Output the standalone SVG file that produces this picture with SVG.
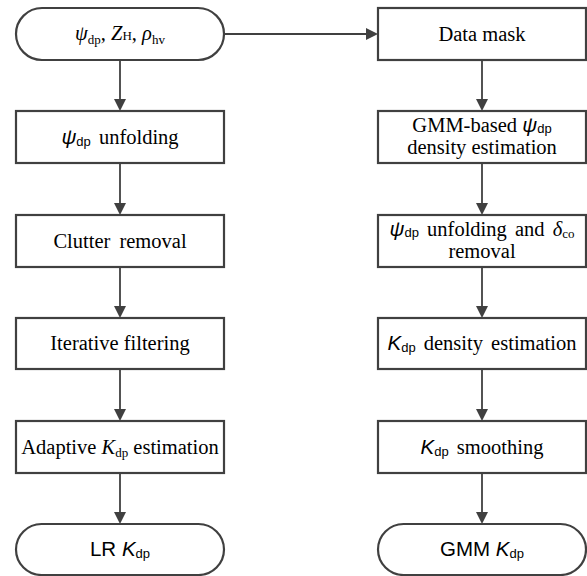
<svg xmlns="http://www.w3.org/2000/svg" width="587" height="576" viewBox="0 0 587 576">
<style>
.box{fill:#fff;stroke:#404040;stroke-width:2.2}
.ln{stroke:#404040;stroke-width:1.8;fill:none}
.ah{fill:#404040}
.t{font-family:"Liberation Serif","Times New Roman",serif;font-size:20.5px;fill:#000;text-anchor:middle}
.sans{font-family:"Liberation Sans",Arial,sans-serif}
.sub{font-size:13px}
.it{font-style:italic}
</style>
<g id="connectors">
<path class="ln" d="M120,60 V101"/><path class="ah" d="M114,99 L126,99 L120,111 z"/>
<path class="ln" d="M120,163 V204"/><path class="ah" d="M114,203 L126,203 L120,215 z"/>
<path class="ln" d="M120,267 V307"/><path class="ah" d="M114,306 L126,306 L120,318 z"/>
<path class="ln" d="M120,369 V410"/><path class="ah" d="M114,409 L126,409 L120,421 z"/>
<path class="ln" d="M120,473 V513"/><path class="ah" d="M114,512 L126,512 L120,524 z"/>
<path class="ln" d="M482,60 V101"/><path class="ah" d="M476,99 L488,99 L482,111 z"/>
<path class="ln" d="M482,163 V204"/><path class="ah" d="M476,203 L488,203 L482,215 z"/>
<path class="ln" d="M482,267 V307"/><path class="ah" d="M476,306 L488,306 L482,318 z"/>
<path class="ln" d="M482,369 V410"/><path class="ah" d="M476,409 L488,409 L482,421 z"/>
<path class="ln" d="M482,473 V513"/><path class="ah" d="M476,512 L488,512 L482,524 z"/>
<path class="ln" d="M224,34 H367"/><path class="ah" d="M366,28 L366,40 L378,34 z"/>
</g>
<g id="n-input">
<rect class="box" x="16" y="8" width="208" height="52" rx="26"/>
<text class="t" x="120" y="40"><tspan class="it">ψ</tspan><tspan class="sub" dy="4">dp</tspan><tspan dy="-4">, </tspan><tspan class="it">Z</tspan><tspan class="sub">H</tspan><tspan>, </tspan><tspan class="it">ρ</tspan><tspan class="sub" dy="4">hv</tspan></text>
</g>
<g id="n-unfold">
<rect class="box" x="16" y="111" width="208" height="52"/>
<text class="t" x="120" y="144"><tspan class="sans it">ψ</tspan><tspan class="sans sub" dy="2">dp</tspan><tspan dy="-2" word-spacing="3"> unfolding</tspan></text>
</g>
<g id="n-clutter">
<rect class="box" x="16" y="215" width="208" height="52"/>
<text class="t" x="120" y="248" word-spacing="4">Clutter removal</text>
</g>
<g id="n-iter">
<rect class="box" x="16" y="318" width="208" height="51"/>
<text class="t" x="120" y="350">Iterative filtering</text>
</g>
<g id="n-adaptive">
<rect class="box" x="16" y="421" width="208" height="52"/>
<text class="t" x="120" y="454">Adaptive <tspan class="it">K</tspan><tspan class="sub" dy="3">dp</tspan><tspan dy="-3"> estimation</tspan></text>
</g>
<g id="n-lr">
<rect class="box" x="16" y="524" width="208" height="51" rx="25.5"/>
<text class="t sans" x="120" y="556" font-size="18"><tspan>LR </tspan><tspan class="it">K</tspan><tspan class="sub" dy="2">dp</tspan></text>
</g>
<g id="n-mask">
<rect class="box" x="378" y="8" width="208" height="52"/>
<text class="t" x="482" y="41">Data mask</text>
</g>
<g id="n-gmm">
<rect class="box" x="378" y="111" width="208" height="52"/>
<text class="t" x="482" y="132">GMM-based <tspan class="sans it">ψ</tspan><tspan class="sans sub" dy="1">dp</tspan></text>
<text class="t" x="482" y="154">density estimation</text>
</g>
<g id="n-unfold2">
<rect class="box" x="378" y="215" width="208" height="52"/>
<text class="t" x="482" y="236"><tspan class="sans it">ψ</tspan><tspan class="sans sub" dy="1">dp</tspan><tspan dy="-1" word-spacing="3"> unfolding and </tspan><tspan class="it">δ</tspan><tspan class="sub" dy="2">co</tspan></text>
<text class="t" x="482" y="258">removal</text>
</g>
<g id="n-kdens">
<rect class="box" x="378" y="318" width="208" height="51"/>
<text class="t" x="482" y="350" word-spacing="3"><tspan class="sans it">K</tspan><tspan class="sans sub" dy="2">dp</tspan><tspan dy="-2"> density estimation</tspan></text>
</g>
<g id="n-smooth">
<rect class="box" x="378" y="421" width="208" height="52"/>
<text class="t" x="482" y="454" word-spacing="3"><tspan class="sans it">K</tspan><tspan class="sans sub" dy="2">dp</tspan><tspan dy="-2"> smoothing</tspan></text>
</g>
<g id="n-gmmk">
<rect class="box" x="378" y="524" width="208" height="51" rx="25.5"/>
<text class="t sans" x="482" y="556" font-size="18"><tspan>GMM </tspan><tspan class="it">K</tspan><tspan class="sub" dy="2">dp</tspan></text>
</g>
</svg>
